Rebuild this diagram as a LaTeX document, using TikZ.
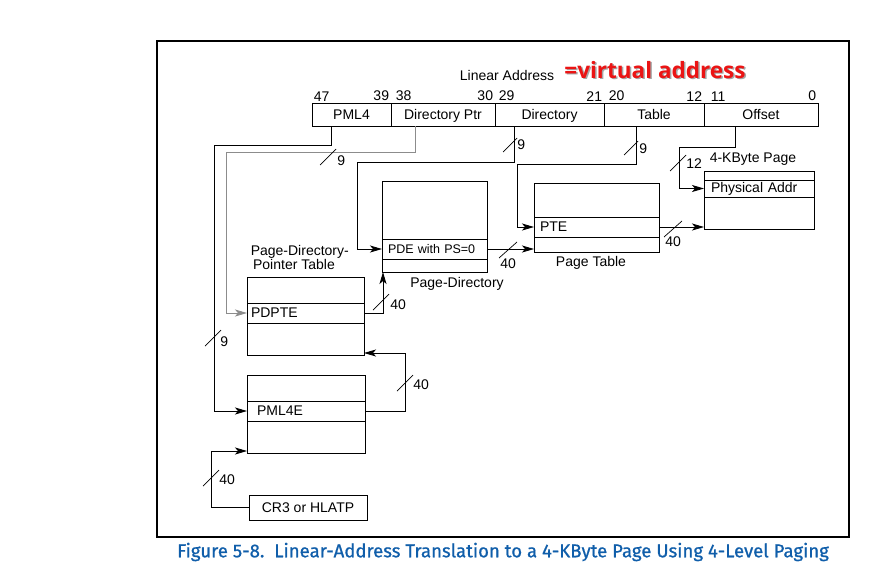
\documentclass[tikz,border=0pt]{standalone}
\usepackage{fontspec}
\setmainfont{Liberation Sans}
\newfontfamily\capfont[FakeBold=0.8]{Fira Sans}
\newfontfamily\markfont{Open Sans}
\usetikzlibrary{arrows.meta,positioning}
\definecolor{intelblue}{RGB}{16,94,170}
\definecolor{markred}{RGB}{235,20,20}

\tikzset{
  field/.style={draw, outer sep=0pt, inner sep=0pt, minimum height=23pt, text height=11.5pt, text depth=1.5pt, anchor=north west},
  tbl/.style={draw, outer sep=0pt, inner sep=0pt, anchor=north west},
  entry/.style={draw, outer sep=0pt, inner xsep=6pt, inner ysep=0pt, align=left, minimum height=20pt},
  bitno/.style={inner sep=1.5pt},
  conn/.style={-{Stealth[length=12pt,width=7pt,inset=3pt]}},
}

\begin{document}
\begin{tikzpicture}[x=1pt, y=-1pt, line width=0.9pt, font=\fontsize{14}{15.5}\selectfont]
\useasboundingbox (0,0) rectangle (872,576);
\draw[line width=1.1pt] (157,41) rectangle (849,537);

% linear address
\node (linaddr) at (507,75) {Linear Address};
\node[text=black!35, font=\markfont\bfseries\fontsize{22.5}{26}\selectfont] (virtshadow) at (656.5,71.5) {=virtual address};
\node[text=markred, font=\markfont\bfseries\fontsize{22.5}{26}\selectfont] (virt) at (655,70) {=virtual address};

\node[field, minimum width=79pt] (pml4) at (312,103) {PML4};
\node[field, minimum width=104pt, right=0pt of pml4] (dirptr) {Directory Ptr};
\node[field, minimum width=109pt, right=0pt of dirptr] (dir) {Directory};
\node[field, minimum width=100pt, right=0pt of dir] (tab) {Table};
\node[field, minimum width=114pt, right=0pt of tab] (off) {Offset};

\node[bitno, anchor=south west] (b47) at (pml4.north west) {47};
\node[bitno, anchor=south east] (b39) at (pml4.north east) {39};
\node[bitno, anchor=south west] (b38) at ([xshift=3pt]dirptr.north west) {38};
\node[bitno, anchor=south east] (b30) at (dirptr.north east) {30};
\node[bitno, anchor=south west] (b29) at ([xshift=2pt]dir.north west) {29};
\node[bitno, anchor=south east] (b21) at (dir.north east) {21};
\node[bitno, anchor=south west] (b20) at ([xshift=3pt]tab.north west) {20};
\node[bitno, anchor=south east] (b12) at (tab.north east) {12};
\node[bitno, anchor=south west] (b11) at ([xshift=5pt]off.north west) {11};
\node[bitno, anchor=south east] (b0) at (off.north east) {0};

% tables
\node[tbl, minimum width=118pt, minimum height=78pt] (pml4t) at (247,375) {};
\node[entry, text width=106pt, below right=26pt and 0pt of pml4t.north west] (pml4e) {\hspace{4pt}PML4E};

\node[tbl, minimum width=117pt, minimum height=78pt] (pdpt) at (247,277) {};
\node[entry, text width=109pt, inner xsep=4pt, below right=26pt and 0pt of pdpt.north west] (pdpte) {PDPTE};
\node[anchor=west, align=left, font=\fontsize{14}{14}\selectfont] (pdptlbl) at (247,257) {Page-Directory-\\\,Pointer Table};

\node[tbl, minimum width=105pt, minimum height=91pt] (pd) at (382,181) {};
\node[entry, text width=93pt, font=\fontsize{12.5}{14}\selectfont, below right=58pt and 0pt of pd.north west] (pde) {PDE with PS=0};
\node (pdlbl) at (457,284) {Page-Directory};

\node[tbl, minimum width=125pt, minimum height=69pt] (pt) at (534,183) {};
\node[entry, text width=113pt, below right=34pt and 0pt of pt.north west] (pte) {PTE};
\node (ptlbl) at (591,263) {Page Table};

\node[tbl, minimum width=110pt, minimum height=58pt] (page) at (704,171) {};
\node[entry, text width=96pt, inner xsep=7pt, minimum height=17pt, below right=9pt and 0pt of page.north west] (paddr) {Physical Addr};
\node[anchor=west] (pagelbl) at (706,159) {4-KByte Page};

\node[tbl, minimum width=118pt, minimum height=25pt] (cr3) at (249,495) {CR3 or HLATP};

% index paths from the linear address
\draw[conn] ([xshift=19pt]pml4.south west) |- (214,145) |- (pml4e.west);
\draw[conn, black!45] ([xshift=24pt]dirptr.south west) |- (226,152) |- (pdpte.west);
\draw[conn] ([xshift=19pt]dir.south west) |- (357,162) |- (pde.west);
\draw[conn] ([xshift=32pt]tab.south west) |- (517,164) |- (pte.west);
\draw[conn] ([xshift=31pt]off.south west) |- (679,147) |- (paddr.west);

% base address paths
\draw[conn] (cr3.west) -| (211,451) -- ([yshift=2pt]pml4t.south west);
\draw[conn] (pml4e.east) -| (405,353) -- ([yshift=2pt]pdpt.south east);
\draw[conn] (pdpte.east) -| ([xshift=1pt]pd.south west);
\draw[conn] (pde.east) -- (pde.east -| pt.west);
\draw[conn] (pte.east) -- (pte.east -| page.west);

% width marks
\draw[line width=0.7pt] (213,338) ++(-8,8) -- ++(16,-16);
\node[anchor=west, inner sep=0pt] (w1) at (220,342) {9};
\draw[line width=0.7pt] (328,157) ++(-8,8) -- ++(16,-16);
\node[anchor=west, inner sep=0pt] (w2) at (337,161) {9};
\draw[line width=0.7pt] (510,145) ++(-7,7) -- ++(14,-14);
\node[anchor=west, inner sep=0pt] (w3) at (517,145) {9};
\draw[line width=0.7pt] (631,148) ++(-7,7) -- ++(14,-14);
\node[anchor=west, inner sep=0pt] (w4) at (639,149) {9};
\draw[line width=0.7pt] (678,163) ++(-8,8) -- ++(16,-16);
\node[anchor=west, inner sep=0pt] (w5) at (686,164) {12};
\draw[line width=0.7pt] (211,478) ++(-8,8) -- ++(16,-16);
\node[anchor=west, inner sep=0pt] (w6) at (219,480) {40};
\draw[line width=0.7pt] (405,383) ++(-8,8) -- ++(16,-16);
\node[anchor=west, inner sep=0pt] (w7) at (413,385) {40};
\draw[line width=0.7pt] (381,302) ++(-8,8) -- ++(16,-16);
\node[anchor=west, inner sep=0pt] (w8) at (390,305) {40};
\draw[line width=0.7pt] (508,250) ++(-9,8) -- ++(18,-16);
\node[anchor=west, inner sep=0pt] (w9) at (500,264) {40};
\draw[line width=0.7pt] (673,229) ++(-9,8) -- ++(18,-16);
\node[anchor=west, inner sep=0pt] (w10) at (665,242) {40};

% caption
\node[text=intelblue, font=\capfont\fontsize{18.6}{22}\selectfont] (caption) at (503,552) {Figure 5-8.\ \ Linear-Address Translation to a 4-KByte Page Using 4-Level Paging};
\end{tikzpicture}
\end{document}
